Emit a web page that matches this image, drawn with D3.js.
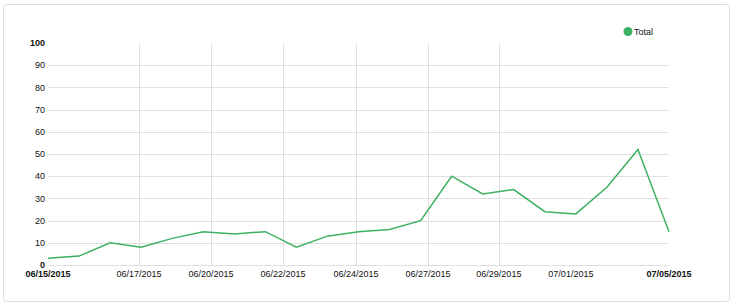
<!DOCTYPE html>
<html>
<head>
  <meta charset="utf-8">
  <script src="https://d3js.org/d3.v7.min.js"></script>
  <style>
    body { margin: 0; background: #fff; }
    svg text { font-family: "Liberation Sans", Arial, sans-serif; fill: #111; }
  </style>
</head>
<body>
<script>
// data
var dates = ["2015-06-15", "2015-06-16", "2015-06-17", "2015-06-18", "2015-06-19",
             "2015-06-20", "2015-06-21", "2015-06-22", "2015-06-23", "2015-06-24",
             "2015-06-25", "2015-06-26", "2015-06-27", "2015-06-28", "2015-06-29",
             "2015-06-30", "2015-07-01", "2015-07-02", "2015-07-03", "2015-07-04",
             "2015-07-05"];
var totals = [3, 4, 10, 8, 12, 15, 14, 15, 8, 13, 15, 16, 20, 40, 32, 34, 24, 23, 35, 52, 15];
// intermediate x ticks (evenly spaced in time, label shows the day they fall on)
var xTicks = ["2015-06-17T22:20", "2015-06-20T06:00", "2015-06-22T13:40", "2015-06-24T22:00",
              "2015-06-27T05:45", "2015-06-29T12:30", "2015-07-01T20:10"];
var xGridTicks = 6;   // the last intermediate tick has no grid line
var yTicks = [0, 10, 20, 30, 40, 50, 60, 70, 80, 90, 100];
var seriesName = "Total";

var W = 733, H = 307;
var margin = {left: 48, right: 64, top: 43, bottom: 42};
var green = "#3db162";

var parse = d3.timeParse("%Y-%m-%d");
var parseT = d3.timeParse("%Y-%m-%dT%H:%M");
var fmt = d3.timeFormat("%m/%d/%Y");

var data = dates.map(function (d, i) { return {date: parse(d), value: totals[i]}; });
var tickDates = xTicks.map(parseT);

var svg = d3.select("body").append("svg")
    .attr("width", W)
    .attr("height", H);

// card
svg.append("rect")
    .attr("x", 3.5).attr("y", 4.5)
    .attr("width", 726).attr("height", 297)
    .attr("rx", 3)
    .style("fill", "#fff")
    .style("stroke", "#dcdcdc");

var x = d3.scaleTime()
    .domain(d3.extent(data, function (d) { return d.date; }))
    .range([margin.left, W - margin.right]);
var y = d3.scaleLinear()
    .domain([0, 100])
    .range([H - margin.bottom, margin.top]);

var g = svg.append("g");

// horizontal grid (no line at 100)
g.selectAll(".hgrid")
    .data(yTicks.filter(function (t) { return t < 100; }))
    .enter().append("line")
    .attr("x1", x.range()[0]).attr("x2", x.range()[1])
    .attr("y1", function (d) { return Math.round(y(d)) + 0.5; })
    .attr("y2", function (d) { return Math.round(y(d)) + 0.5; })
    .style("stroke", "#e0e0e0");

// vertical grid
g.selectAll(".vgrid")
    .data(tickDates.slice(0, xGridTicks))
    .enter().append("line")
    .attr("x1", function (d) { return Math.round(x(d)) + 0.5; })
    .attr("x2", function (d) { return Math.round(x(d)) + 0.5; })
    .attr("y1", y(100)).attr("y2", y(0))
    .style("stroke", "#e0e0e0");

// y labels
g.selectAll(".ylab")
    .data(yTicks)
    .enter().append("text")
    .attr("x", margin.left - 3)
    .attr("y", function (d) { return y(d); })
    .attr("dy", "0.35em")
    .style("text-anchor", "end")
    .style("font-size", "9px")
    .style("font-weight", function (d) { return (d === 0 || d === 100) ? "bold" : "normal"; })
    .text(function (d) { return d; });

// x labels: bold ends + intermediate ticks
var xLabels = [{d: x.domain()[0], bold: true}]
    .concat(tickDates.map(function (d) { return {d: d, bold: false}; }))
    .concat([{d: x.domain()[1], bold: true}]);
g.selectAll(".xlab")
    .data(xLabels)
    .enter().append("text")
    .attr("x", function (d) { return x(d.d); })
    .attr("y", H - margin.bottom + 12)
    .style("text-anchor", "middle")
    .style("font-size", "9px")
    .style("font-weight", function (d) { return d.bold ? "bold" : "normal"; })
    .text(function (d) { return fmt(d.d); });

// line
var line = d3.line()
    .x(function (d) { return x(d.date); })
    .y(function (d) { return y(d.value); });
g.append("path")
    .datum(data)
    .attr("d", line)
    .style("fill", "none")
    .style("stroke", green)
    .style("stroke-width", 1.5);

// legend
svg.append("circle")
    .attr("cx", 628).attr("cy", 31.5).attr("r", 4.5)
    .style("fill", green);
svg.append("text")
    .attr("x", 634).attr("y", 35)
    .style("font-size", "9px")
    .text(seriesName);
</script>
</body>
</html>
